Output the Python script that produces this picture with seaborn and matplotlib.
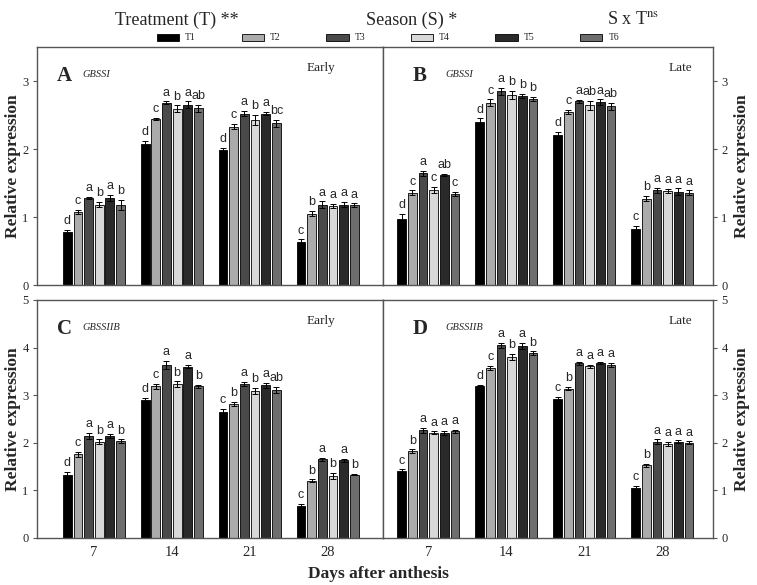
import matplotlib
matplotlib.use("Agg")
import matplotlib.pyplot as plt
import seaborn as sns
import pandas as pd

days = ["7", "14", "21", "28"]
treatments = ["T1", "T2", "T3", "T4", "T5", "T6"]
colors = ["#000000", "#ababab", "#4a4a4a", "#d8d8d8", "#2a2a2a", "#6e6e6e"]

# Panel A: GBSSI, Early (rows = days, cols = T1..T6)
a_mean = [[0.78, 1.08, 1.28, 1.18, 1.28, 1.18],
          [2.08, 2.44, 2.68, 2.59, 2.65, 2.60],
          [1.98, 2.33, 2.52, 2.43, 2.52, 2.38],
          [0.63, 1.05, 1.18, 1.16, 1.18, 1.17]]
a_err = [[0.03, 0.03, 0.02, 0.04, 0.05, 0.07],
         [0.04, 0.02, 0.02, 0.05, 0.05, 0.05],
         [0.04, 0.04, 0.04, 0.07, 0.02, 0.05],
         [0.04, 0.04, 0.05, 0.03, 0.04, 0.03]]
a_let = [["d", "c", "a", "b", "a", "b"],
         ["d", "c", "a", "b", "a", "ab"],
         ["d", "c", "a", "b", "a", "bc"],
         ["c", "b", "a", "a", "a", "a"]]

# Panel B: GBSSI, Late
b_mean = [[0.97, 1.36, 1.64, 1.40, 1.62, 1.34],
          [2.40, 2.68, 2.85, 2.80, 2.78, 2.74],
          [2.21, 2.55, 2.70, 2.64, 2.69, 2.63],
          [0.83, 1.27, 1.39, 1.38, 1.37, 1.36]]
b_err = [[0.08, 0.03, 0.04, 0.04, 0.01, 0.03],
         [0.05, 0.05, 0.05, 0.06, 0.03, 0.03],
         [0.04, 0.03, 0.02, 0.07, 0.04, 0.05],
         [0.04, 0.04, 0.04, 0.03, 0.05, 0.03]]
b_let = [["d", "c", "a", "c", "ab", "c"],
         ["d", "c", "a", "b", "b", "b"],
         ["d", "c", "a", "ab", "a", "ab"],
         ["c", "b", "a", "a", "a", "a"]]

# Panel C: GBSSIIB, Early
c_mean = [[1.33, 1.76, 2.14, 2.02, 2.14, 2.03],
          [2.90, 3.19, 3.63, 3.23, 3.60, 3.19],
          [2.64, 2.81, 3.23, 3.09, 3.21, 3.11],
          [0.67, 1.20, 1.65, 1.30, 1.63, 1.33]]
c_err = [[0.06, 0.05, 0.07, 0.05, 0.04, 0.04],
         [0.04, 0.05, 0.09, 0.06, 0.03, 0.03],
         [0.07, 0.04, 0.04, 0.06, 0.05, 0.06],
         [0.04, 0.03, 0.04, 0.06, 0.04, 0.01]]
c_let = [["d", "c", "a", "b", "a", "b"],
         ["d", "c", "a", "b", "a", "b"],
         ["c", "b", "a", "b", "a", "ab"],
         ["c", "b", "a", "b", "a", "b"]]

# Panel D: GBSSIIB, Late
d_mean = [[1.41, 1.82, 2.26, 2.21, 2.21, 2.24],
          [3.20, 3.57, 4.05, 3.81, 4.03, 3.88],
          [2.91, 3.14, 3.67, 3.61, 3.67, 3.63],
          [1.05, 1.53, 2.02, 1.98, 2.02, 2.00]]
d_err = [[0.03, 0.04, 0.05, 0.03, 0.04, 0.03],
         [0.01, 0.05, 0.05, 0.06, 0.06, 0.04],
         [0.05, 0.03, 0.03, 0.03, 0.02, 0.04],
         [0.04, 0.03, 0.05, 0.04, 0.03, 0.03]]
d_let = [["c", "b", "a", "a", "a", "a"],
         ["d", "c", "a", "b", "a", "b"],
         ["c", "b", "a", "a", "a", "a"],
         ["c", "b", "a", "a", "a", "a"]]

panels = [
    ("A", "GBSSI", "Early", a_mean, a_err, a_let, 3.5, [0, 1, 2, 3]),
    ("B", "GBSSI", "Late", b_mean, b_err, b_let, 3.5, [0, 1, 2, 3]),
    ("C", "GBSSIIB", "Early", c_mean, c_err, c_let, 5, [0, 1, 2, 3, 4, 5]),
    ("D", "GBSSIIB", "Late", d_mean, d_err, d_let, 5, [0, 1, 2, 3, 4, 5]),
]

sns.set_theme(style="white")
plt.rcParams["font.family"] = ["Liberation Serif", "DejaVu Serif"]
plt.rcParams["mathtext.fontset"] = "stix"

W, H = 757, 585
fig = plt.figure(figsize=(W / 100, H / 100), dpi=100)

def frac(x0, y0, x1, y1):
    return [x0 / W, 1 - y1 / H, (x1 - x0) / W, (y1 - y0) / H]

rects = {
    "A": frac(37, 47, 383, 285),
    "B": frac(383, 47, 713, 285),
    "C": frac(37, 300, 383, 538),
    "D": frac(383, 300, 713, 538),
}
xlims = {"A": (-0.73, 3.71), "C": (-0.73, 3.71), "B": (-0.58, 3.65), "D": (-0.58, 3.65)}

spine_col = "#555555"
handles = None
for tag, gene, season, mean, err, let, ymax, yt in panels:
    ax = fig.add_axes(rects[tag])
    rows = []
    for i, d in enumerate(days):
        for j, t in enumerate(treatments):
            rows.append({"day": d, "treatment": t, "value": mean[i][j]})
    df = pd.DataFrame(rows)
    sns.barplot(data=df, x="day", y="value", hue="treatment", order=days,
                hue_order=treatments, palette=colors, edgecolor="black",
                linewidth=0.6, width=0.82, gap=0.18, errorbar=None, ax=ax)
    bar_conts = list(ax.containers)
    for j, cont in enumerate(bar_conts):
        for i, p in enumerate(cont.patches):
            xc = p.get_x() + p.get_width() / 2
            h = p.get_height()
            e = err[i][j]
            ax.errorbar(xc, h, yerr=e, fmt="none", ecolor="black",
                        elinewidth=0.7, capsize=2.5, capthick=0.7)
            ax.text(xc, h + e + 0.012 * ymax, let[i][j], ha="center", va="bottom",
                    fontsize=9, family=["Liberation Sans", "DejaVu Sans"])
    if handles is None:
        handles, labels = ax.get_legend_handles_labels()
        handles = handles[:6]
    if ax.legend_ is not None:
        ax.legend_.remove()
    ax.set_xlim(*xlims[tag])
    ax.set_ylim(0, ymax)
    ax.set_yticks(yt)
    ax.set_xlabel("")
    ax.set_ylabel("")
    for s in ax.spines.values():
        s.set_color(spine_col)
        s.set_linewidth(1.0)
        s.set_visible(True)
    ax.tick_params(axis="y", direction="out", length=3, width=0.8,
                   color=spine_col, labelsize=9, pad=3)
    if tag in ("B", "D"):
        ax.yaxis.tick_right()
        ax.yaxis.set_label_position("right")
    else:
        ax.yaxis.tick_left()
    if tag in ("A", "B"):
        ax.set_xticks([])
    else:
        ax.tick_params(axis="x", length=0, labelsize=10.5, pad=6)
    ax.text(0.057 if tag in "AC" else 0.09, 0.88, tag, transform=ax.transAxes,
            fontsize=15, fontweight="bold", va="center", ha="left")
    ax.text(0.13 if tag in "AC" else 0.19, 0.885, gene, transform=ax.transAxes,
            fontsize=7.5, style="italic", va="center", ha="left")
    ax.text(0.82 if tag in "AC" else 0.9, 0.91, season, transform=ax.transAxes,
            fontsize=9.5, va="center", ha="center")

# y labels
for y0, y1 in ((47, 285), (300, 538)):
    yc = 1 - ((y0 + y1) / 2) / H
    fig.text(13 / W, yc, "Relative expression", rotation=90, ha="center",
             va="center", fontsize=12.5, fontweight="bold")
    fig.text(742 / W, yc, "Relative expression", rotation=90, ha="center",
             va="center", fontsize=12.5, fontweight="bold")

fig.text(378 / W, 1 - 574 / H, "Days after anthesis", ha="center", va="center",
         fontsize=12.5, fontweight="bold")

# header
fig.text(177 / W, 1 - 20 / H, "Treatment (T) **", ha="center", va="center", fontsize=13)
fig.text(412 / W, 1 - 20 / H, "Season (S) *", ha="center", va="center", fontsize=13)
fig.text(633 / W, 1 - 20 / H, r"S x T$^{\mathrm{ns}}$", ha="center", va="center", fontsize=13)

fig.legend(handles, treatments, loc="center", bbox_to_anchor=(388 / W, 1 - 38 / H),
           ncol=6, frameon=False, fontsize=7, handlelength=2.3, handleheight=0.7,
           handletextpad=0.6, columnspacing=4.7)

fig.savefig("out.png", dpi=100)
